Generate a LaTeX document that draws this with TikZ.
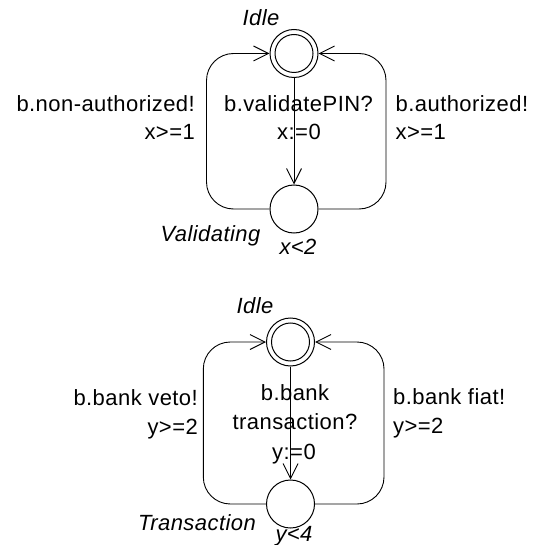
\documentclass[tikz,border=0pt]{standalone}
\usepackage{fontspec}
\setmainfont{Liberation Sans}[LetterSpace=2]
\usetikzlibrary{arrows.meta}
\begin{document}
\begin{tikzpicture}[x=1pt,y=-1pt,
  font=\fontsize{22}{26}\selectfont,
  loc/.style={circle,draw,line width=1pt,minimum size=48pt,inner sep=0pt},
  inloc/.style={circle,draw,line width=1pt,minimum size=38pt,inner sep=0pt},
  edge/.style={draw,line width=0.9pt,-{Straight Barb[length=15pt,width=15pt,line width=0.9pt]}},
  lab/.style={inner sep=0pt},
  locname/.style={inner sep=0pt,font=\fontsize{22}{26}\selectfont\itshape}]
\useasboundingbox (0,0) rectangle (541,545);
% ---------- top automaton ----------
\node[loc] (i1) at (294,53.5) {};
\node[inloc] (i1in) at (i1) {};
\node[loc] (v1) at (294,209) {};
\coordinate (l1) at (206.5,0);
\coordinate (r1) at (386,0);
\draw[edge] (i1) -- (v1);
\draw[edge,rounded corners=27pt] (v1.west) -- (v1.west -| l1) -- (i1.west -| l1) -- (i1.west);
\draw[edge,rounded corners=27pt] (v1.east) -- (v1.east -| r1) -- (i1.east -| r1) -- (i1.east);
\node[locname,anchor=base] (n1) at (261,26) {Idle};
\node[locname,anchor=base] (n2) at (210.5,241.7) {Validating};
\node[locname,anchor=base] (n3) at (298,254.5) {x<2};
\node[lab,anchor=base east] (a1) at (195,111.5) {b.non-authorized!};
\node[lab,anchor=base east] (a2) at (195,140) {x>=1};
\node[lab,anchor=base] (b1) at (298.5,111.5) {b.validatePIN?};
\node[lab,anchor=base] (b2) at (299,140) {x:=0};
\node[lab,anchor=base west] (c1) at (395.5,111.5) {b.authorized!};
\node[lab,anchor=base west] (c2) at (395.5,140) {x>=1};
% ---------- bottom automaton ----------
\node[loc] (i2) at (290.5,342) {};
\node[inloc] (i2in) at (i2) {};
\node[loc] (t2) at (290.5,504) {};
\coordinate (l2) at (203.3,0);
\coordinate (r2) at (384,0);
\draw[edge] (i2) -- (t2);
\draw[edge,rounded corners=27pt] (t2.west) -- (t2.west -| l2) -- (i2.west -| l2) -- (i2.west);
\draw[edge,rounded corners=27pt] (t2.east) -- (t2.east -| r2) -- (i2.east -| r2) -- (i2.east);
\node[locname,anchor=base] (m1) at (255,313) {Idle};
\node[locname,anchor=base] (m2) at (197,530) {Transaction};
\node[locname,anchor=base] (m3) at (294,541) {y<4};
\node[lab,anchor=base east] (d1) at (198,405) {b.bank veto!};
\node[lab,anchor=base east] (d2) at (198,434) {y>=2};
\node[lab,anchor=base] (e1) at (295,400) {b.bank};
\node[lab,anchor=base] (e2) at (295,429.5) {transaction?};
\node[lab,anchor=base] (e3) at (294,459) {y:=0};
\node[lab,anchor=base west] (f1) at (393,404) {b.bank fiat!};
\node[lab,anchor=base west] (f2) at (393,433) {y>=2};
\end{tikzpicture}
\end{document}
